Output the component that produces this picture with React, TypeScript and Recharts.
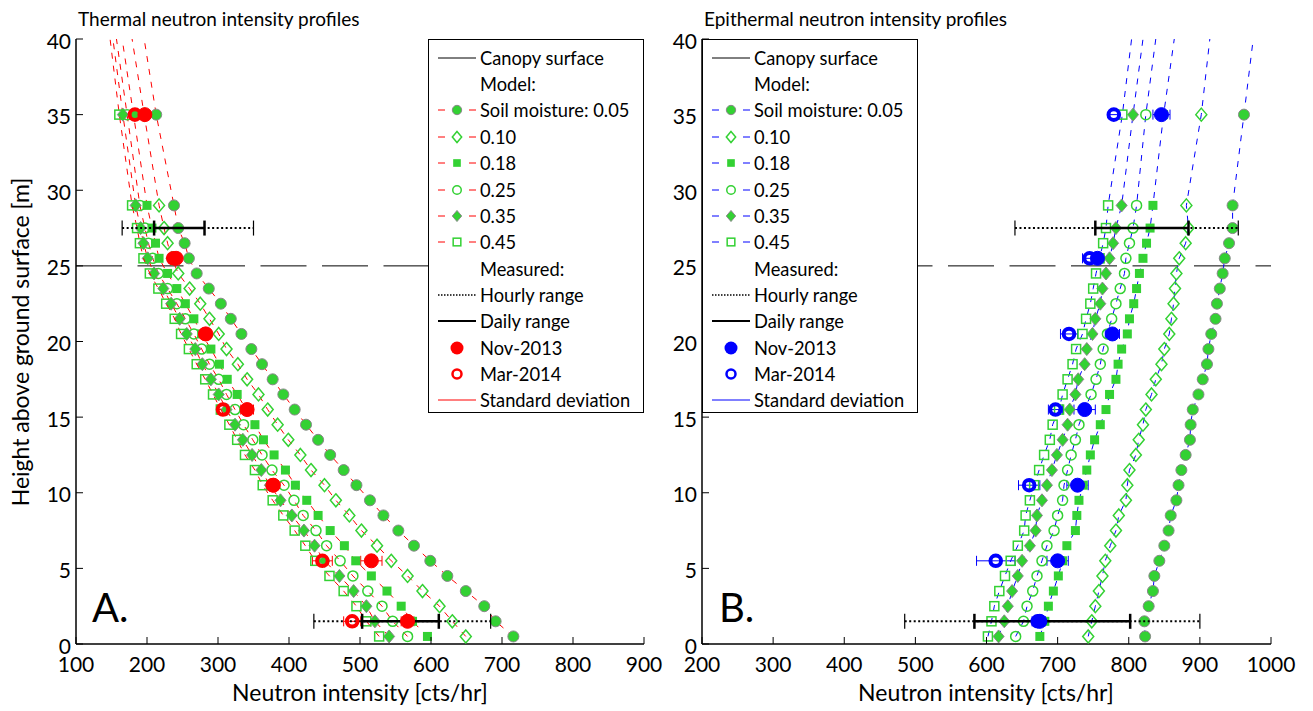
import React from 'react';
import { ScatterChart, Scatter, XAxis, YAxis, ReferenceLine, ErrorBar } from 'recharts';

// ---------- data ----------
const heights = [0.5, 1.5, 2.5, 3.5, 4.5, 5.5, 6.5, 7.5, 8.5, 9.5, 10.5, 11.5, 12.5, 13.5, 14.5, 15.5, 16.5, 17.5, 18.5, 19.5, 20.5, 21.5, 22.5, 23.5, 24.5, 25.5, 26.5, 27.5, 29, 35, 40];

// Thermal (left panel), model curves by soil moisture
const thermal005 = [716, 691, 675, 649, 623, 599, 576, 554, 533, 514, 495, 477, 458, 441, 424, 408, 392, 377, 362, 347, 333, 318, 304, 287, 270, 259, 253, 244, 238, 213, 196];
const thermal010 = [649, 630, 612, 588, 567, 544, 524, 502, 485, 466, 450, 431, 416, 399, 384, 370, 357, 341, 328, 312, 301, 288, 275, 260, 244, 235, 229, 224, 217, 196, 179];
const thermal018 = [595, 574, 558, 538, 516, 494, 478, 458, 441, 425, 409, 395, 379, 364, 352, 340, 327, 313, 302, 290, 277, 266, 254, 242, 229, 217, 212, 207, 200, 181, 165];
const thermal025 = [567, 546, 531, 511, 490, 472, 453, 438, 420, 407, 393, 376, 362, 349, 336, 324, 312, 301, 288, 277, 266, 254, 242, 229, 216, 208, 202, 197, 190, 172, 157];
const thermal035 = [541, 521, 509, 491, 471, 450, 436, 421, 404, 388, 373, 361, 348, 335, 324, 312, 301, 290, 278, 268, 256, 246, 234, 223, 210, 201, 195, 191, 184, 166, 152];
const thermal045 = [527, 509, 495, 477, 457, 437, 423, 408, 392, 377, 363, 352, 338, 327, 316, 304, 293, 282, 270, 259, 248, 239, 227, 216, 204, 195, 190, 186, 179, 161, 148];

// Epithermal (right panel), model curves by soil moisture
const epi005 = [823, 822, 828, 834, 836, 843, 850, 856, 859, 867, 870, 874, 880, 886, 887, 890, 898, 904, 910, 912, 916, 922, 924, 928, 932, 935, 941, 946, 946, 962, 975];
const epi010 = [743, 748, 753, 758, 763, 767, 774, 782, 786, 796, 798, 801, 810, 814, 820, 824, 832, 838, 846, 850, 857, 860, 863, 865, 867, 871, 880, 884, 881, 902, 914];
const epi018 = [675, 682, 687, 694, 701, 707, 713, 725, 727, 730, 736, 741, 746, 752, 760, 768, 773, 782, 785, 790, 798, 801, 807, 811, 815, 820, 825, 830, 834, 849, 864];
const epi025 = [641, 652, 657, 665, 671, 678, 685, 695, 700, 707, 709, 714, 719, 725, 730, 738, 747, 754, 760, 764, 770, 776, 782, 788, 794, 796, 801, 806, 811, 824, 838];
const epi035 = [617, 625, 630, 636, 644, 650, 661, 669, 671, 678, 685, 692, 699, 707, 714, 717, 725, 729, 738, 741, 749, 753, 760, 763, 768, 773, 778, 782, 790, 806, 820];
const epi045 = [602, 607, 611, 618, 626, 634, 644, 653, 655, 661, 667, 674, 681, 689, 693, 702, 707, 714, 721, 726, 735, 740, 746, 750, 754, 759, 764, 768, 771, 791, 804];

// Measured
const measHeights = [1.5, 5.5, 10.5, 15.5, 20.5, 25.5, 35];
const thermalNov = [567, 516, 378, 341, 283, 241, 197];
const thermalNovSd = [9, 15, 6, 9, 5, 5, 4];
const thermalMar = [489, 447, 377, 307, 282, 237, 183];
const thermalMarSd = [12, 14, 8, 8, 6, 6, 4];
const epiNov = [675, 700, 728, 738, 777, 756, 846];
const epiNovSd = [8, 15, 15, 15, 10, 8, 12];
const epiMar = [672, 613, 660, 697, 716, 745, 779];
const epiMarSd = [8, 27, 15, 10, 12, 10, 6];

// Hourly / daily ranges [low, high] at heights
const rangeHeights = [1.5, 27.5];
const thermalHourly = [[435, 684], [165, 350]];
const thermalDaily = [[503, 611], [210, 281]];
const epiHourly = [[485, 900], [640, 954]];
const epiDaily = [[583, 802], [753, 884]];

const canopyHeight = 25;
const yTicks = [0, 5, 10, 15, 20, 25, 30, 35, 40];
const xTicksL = [100, 200, 300, 400, 500, 600, 700, 800, 900];
const xTicksR = [200, 300, 400, 500, 600, 700, 800, 900, 1000];
const moistureLabels = ['Soil moisture: 0.05', '0.10', '0.18', '0.25', '0.35', '0.45'];

// ---------- styles ----------
const GREEN = '#33d133';
const GREY = '#888888';
const FONT = 'Lato, "Open Sans", sans-serif';
const kinds = ['fcircle', 'odiamond', 'fsquare', 'ocircle', 'fdiamond', 'osquare'];

function Marker({ kind, cx, cy, s = 1 }: { kind: string; cx: number; cy: number; s?: number }) {
  switch (kind) {
    case 'fcircle':
      return <circle cx={cx} cy={cy} r={5.5 * s} fill={GREEN} stroke={GREY} strokeWidth={1} />;
    case 'odiamond':
      return <polygon points={`${cx},${cy - 6.5 * s} ${cx + 5.5 * s},${cy} ${cx},${cy + 6.5 * s} ${cx - 5.5 * s},${cy}`} fill="none" stroke={GREEN} strokeWidth={1.5} />;
    case 'fsquare':
      return <rect x={cx - 4.5 * s} y={cy - 4.5 * s} width={9 * s} height={9 * s} fill={GREEN} />;
    case 'ocircle':
      return <circle cx={cx} cy={cy} r={5 * s} fill="none" stroke={GREEN} strokeWidth={1.5} />;
    case 'fdiamond':
      return <polygon points={`${cx},${cy - 6.5 * s} ${cx + 5.5 * s},${cy} ${cx},${cy + 6.5 * s} ${cx - 5.5 * s},${cy}`} fill={GREEN} stroke={GREY} strokeWidth={1} />;
    case 'osquare':
      return <rect x={cx - 4.5 * s} y={cy - 4.5 * s} width={9 * s} height={9 * s} fill="none" stroke={GREEN} strokeWidth={1.5} />;
    default:
      return <g />;
  }
}

const modelShape = (kind: string) => (p: any) => {
  if (p.payload && p.payload.top) return <g />;
  return <Marker kind={kind} cx={p.cx} cy={p.cy} />;
};
const filledMeas = (color: string) => (p: any) => <circle cx={p.cx} cy={p.cy} r={7} fill={color} stroke={color} strokeWidth={1} />;
const openMeas = (color: string) => (p: any) => <circle cx={p.cx} cy={p.cy} r={5.3} fill="none" stroke={color} strokeWidth={4} />;
const capShape = (w: number) => (p: any) => <line x1={p.cx} x2={p.cx} y1={p.cy - 7.5} y2={p.cy + 7.5} stroke="#000" strokeWidth={w} />;

const toModel = (xs: number[]) => xs.map((x, i) => ({ x, y: heights[i], top: heights[i] === 40 }));
const toMeas = (xs: number[], sd: number[]) => xs.map((x, i) => ({ x, y: measHeights[i], e: sd[i] }));
const toRange = (r: number[], i: number) => [{ x: r[0], y: rangeHeights[i] }, { x: r[1], y: rangeHeights[i] }];

// ---------- ticks ----------
const TICK_FS = 21;
const XTickB = (p: any) => (
  <g>
    <line x1={p.x} x2={p.x} y1={p.y} y2={p.y - 7} stroke="#000" strokeWidth={1} />
    <text x={p.x} y={p.y + 28} textAnchor="middle" fontSize={TICK_FS} fontFamily={FONT} fill="#000">{p.payload.value}</text>
  </g>
);
const XTickT = (p: any) => <line x1={p.x} x2={p.x} y1={p.y} y2={p.y + 7} stroke="#000" strokeWidth={1} />;
const YTickL = (p: any) => (
  <g>
    <line x1={p.x} x2={p.x + 7} y1={p.y} y2={p.y} stroke="#000" strokeWidth={1} />
    <text x={p.x - 5} y={p.y + 9.5} textAnchor="end" fontSize={TICK_FS} fontFamily={FONT} fill="#000">{p.payload.value}</text>
  </g>
);
const YTickR = (p: any) => <line x1={p.x} x2={p.x - 7} y1={p.y} y2={p.y} stroke="#000" strokeWidth={1} />;

function Panel({ left, width, rightMargin, xDomain, xTicks, series, lineColor, measColor, nov, novSd, mar, marSd, hourly, daily }: any) {
  const axisLine = { stroke: '#000', strokeWidth: 1.5 };
  return (
    <div style={{ position: 'absolute', left, top: 0 }}>
      <ScatterChart width={width} height={711} margin={{ top: 39, right: rightMargin, bottom: 0, left: 0 }}>
        <XAxis type="number" dataKey="x" domain={xDomain} ticks={xTicks} interval={0} allowDataOverflow height={67} tickSize={0} tickMargin={0} tickLine={false} axisLine={axisLine} tick={XTickB} />
        <XAxis xAxisId="t" orientation="top" type="number" dataKey="x" domain={xDomain} ticks={xTicks} interval={0} allowDataOverflow height={0} tickSize={0} tickMargin={0} tickLine={false} axisLine={axisLine} tick={XTickT} />
        <YAxis type="number" dataKey="y" domain={[0, 40]} ticks={yTicks} interval={0} allowDataOverflow width={76} tickSize={0} tickMargin={0} tickLine={false} axisLine={axisLine} tick={YTickL} />
        <YAxis yAxisId="r" orientation="right" type="number" dataKey="y" domain={[0, 40]} ticks={yTicks} interval={0} allowDataOverflow width={0} tickSize={0} tickMargin={0} tickLine={false} axisLine={axisLine} tick={YTickR} />
        <ReferenceLine y={canopyHeight} stroke="#000" strokeWidth={1} strokeDasharray="46 15.5" />
        {series.map((s: number[], i: number) => (
          <Scatter key={i} data={toModel(s)} line={{ stroke: lineColor, strokeWidth: 1, strokeDasharray: '6 7' }} shape={modelShape(kinds[i])} isAnimationActive={false} />
        ))}
        {hourly.map((r: number[], i: number) => (
          <Scatter key={'h' + i} data={toRange(r, i)} line={{ stroke: '#000', strokeWidth: 2, strokeDasharray: '2 2.5' }} shape={capShape(1.2)} isAnimationActive={false} />
        ))}
        {daily.map((r: number[], i: number) => (
          <Scatter key={'d' + i} data={toRange(r, i)} line={{ stroke: '#000', strokeWidth: 2.5 }} shape={capShape(2.5)} isAnimationActive={false} />
        ))}
        <Scatter data={toMeas(nov, novSd)} shape={filledMeas(measColor)} isAnimationActive={false}>
          <ErrorBar dataKey="e" direction="x" width={5} stroke={measColor} strokeWidth={1} />
        </Scatter>
        <Scatter data={toMeas(mar, marSd)} shape={openMeas(measColor)} isAnimationActive={false}>
          <ErrorBar dataKey="e" direction="x" width={5} stroke={measColor} strokeWidth={1} />
        </Scatter>
      </ScatterChart>
    </div>
  );
}

function LegendBox({ left, lineColor, measColor }: { left: number; lineColor: string; measColor: string }) {
  const rows: { label: string; icon: React.ReactNode }[] = [
    { label: 'Canopy surface', icon: <line x1={1} x2={39} y1={10} y2={10} stroke="#000" strokeWidth={1} /> },
    { label: 'Model:', icon: null },
    ...moistureLabels.map((lab, i) => ({
      label: lab,
      icon: (
        <g>
          <line x1={1} x2={8} y1={10} y2={10} stroke={lineColor} strokeWidth={1} />
          <line x1={32} x2={39} y1={10} y2={10} stroke={lineColor} strokeWidth={1} />
          <Marker kind={kinds[i]} cx={20} cy={10} s={0.85} />
        </g>
      ),
    })),
    { label: 'Measured:', icon: null },
    { label: 'Hourly range', icon: <line x1={1} x2={39} y1={10} y2={10} stroke="#000" strokeWidth={1.5} strokeDasharray="1.5 1.5" /> },
    { label: 'Daily range', icon: <line x1={1} x2={39} y1={10} y2={10} stroke="#000" strokeWidth={2} /> },
    { label: 'Nov-2013', icon: <circle cx={20} cy={10} r={6.5} fill={measColor} /> },
    { label: 'Mar-2014', icon: <circle cx={20} cy={10} r={4.5} fill="none" stroke={measColor} strokeWidth={2.5} /> },
    { label: 'Standard deviation', icon: <line x1={1} x2={39} y1={10} y2={10} stroke={measColor} strokeWidth={1} /> },
  ];
  return (
    <div style={{ position: 'absolute', left, top: 39, width: 216, height: 374, border: '1.5px solid #000', background: '#fff', boxSizing: 'border-box', fontFamily: FONT, fontSize: 18.3, color: '#000' }}>
      {rows.map((r, i) => {
        const cy = 17.7 + i * 26.36;
        return (
          <div key={i} style={{ position: 'absolute', left: 0, top: cy - 13, height: 26, width: '100%' }}>
            {r.icon && (
              <svg width={40} height={20} style={{ position: 'absolute', left: 8, top: 3 }}>{r.icon}</svg>
            )}
            <span style={{ position: 'absolute', left: 51, top: 0, lineHeight: '26px', whiteSpace: 'nowrap' }}>{r.label}</span>
          </div>
        );
      })}
    </div>
  );
}

export default function App() {
  return (
    <div style={{ position: 'absolute', left: 0, top: 0, width: 1313, height: 711, background: '#fff', overflow: 'hidden' }}>
      <Panel left={0} width={680} rightMargin={36} xDomain={[100, 900]} xTicks={xTicksL}
        series={[thermal005, thermal010, thermal018, thermal025, thermal035, thermal045]}
        lineColor="#ff0000" measColor="#ff0000"
        nov={thermalNov} novSd={thermalNovSd} mar={thermalMar} marSd={thermalMarSd}
        hourly={thermalHourly} daily={thermalDaily} />
      <Panel left={626} width={687} rightMargin={42} xDomain={[200, 1000]} xTicks={xTicksR}
        series={[epi005, epi010, epi018, epi025, epi035, epi045]}
        lineColor="#0000ff" measColor="#0000ff"
        nov={epiNov} novSd={epiNovSd} mar={epiMar} marSd={epiMarSd}
        hourly={epiHourly} daily={epiDaily} />
      <LegendBox left={428} lineColor="#ff0000" measColor="#ff0000" />
      <LegendBox left={702} lineColor="#0000ff" measColor="#0000ff" />
      <svg width={1313} height={711} style={{ position: 'absolute', left: 0, top: 0, pointerEvents: 'none' }} fontFamily={FONT}>
        <text x={78} y={26} fontSize={19} fill="#000">Thermal neutron intensity profiles</text>
        <text x={704} y={26} fontSize={19} fill="#000">Epithermal neutron intensity profiles</text>
        <text x={360} y={701} fontSize={23} textAnchor="middle" fill="#000">Neutron intensity [cts/hr]</text>
        <text x={986} y={701} fontSize={23} textAnchor="middle" fill="#000">Neutron intensity [cts/hr]</text>
        <text x={29} y={342} fontSize={23} textAnchor="middle" fill="#000" transform="rotate(-90 29 342)">Height above ground surface [m]</text>
        <text x={92} y={622} fontSize={40} fill="#000">A.</text>
        <text x={719} y={622} fontSize={40} fill="#000">B.</text>
      </svg>
    </div>
  );
}
